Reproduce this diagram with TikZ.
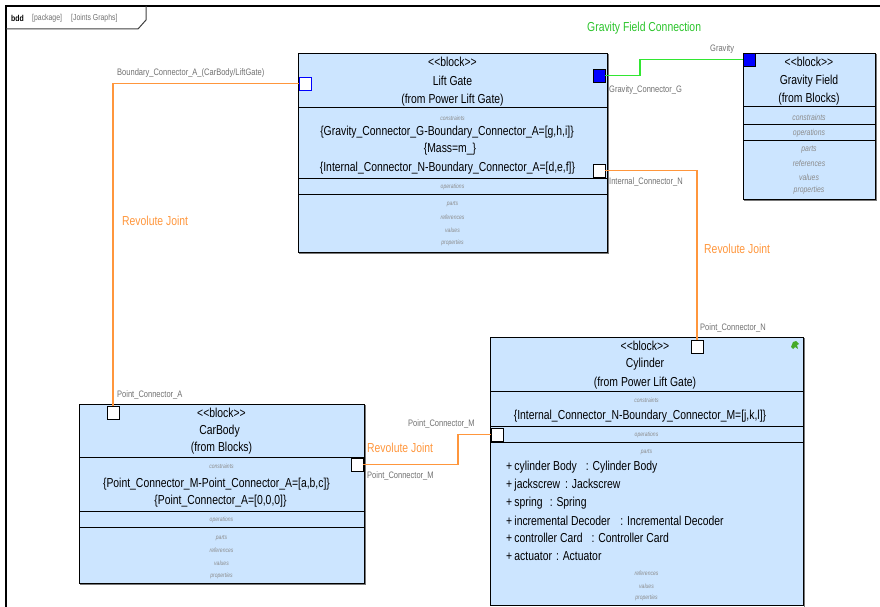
\documentclass[tikz,border=0pt]{standalone}
\usepackage{fontspec}
\setmainfont{Liberation Sans}[FakeStretch=0.8]
\definecolor{blockfill}{RGB}{204,229,255}
\definecolor{jointorange}{RGB}{255,150,60}
\definecolor{gravgreen}{RGB}{50,230,50}
\definecolor{lblgray}{RGB}{112,112,112}
\definecolor{italgray}{RGB}{140,140,140}
\definecolor{shadowgray}{RGB}{120,120,120}
\definecolor{portblue}{RGB}{0,0,255}
\definecolor{icongreen}{RGB}{70,170,40}
\newcommand{\stereo}{<\kern0pt<block>\kern0pt>}
\tikzset{
  blockbox/.style={draw=black, fill=blockfill, line width=0.9pt, inner sep=0pt, outer sep=0pt, anchor=north west},
  divider/.style={draw=black, line width=0.9pt},
  hdr/.style={font=\fontsize{13}{14}\selectfont, inner sep=0pt, text height=9.3pt, text depth=2.6pt},
  cmp/.style={font=\fontsize{6.3}{7}\selectfont\itshape, text=italgray, inner sep=0pt},
  cmpbig/.style={font=\fontsize{8.6}{9}\selectfont\itshape, text=italgray, inner sep=0pt},
  lbl/.style={font=\fontsize{9.4}{10}\selectfont, text=lblgray, inner sep=0pt, anchor=west},
  jnt/.style={font=\fontsize{13}{14}\selectfont, text=jointorange, inner sep=0pt, anchor=west},
  tabtxt/.style={font=\fontsize{8.6}{9}\selectfont, text=lblgray, inner sep=0pt, anchor=west},
  item/.style={font=\fontsize{13}{14}\selectfont, inner sep=0pt, anchor=west, text height=9.3pt, text depth=2.6pt},
  portbox/.style={draw=black, fill=white, line width=0.9pt, minimum width=12pt, minimum height=13pt, inner sep=0pt, outer sep=0pt, anchor=north west},
  orangeline/.style={draw=jointorange, line width=1.2pt},
  greenline/.style={draw=gravgreen, line width=1.2pt},
}
\begin{document}
\begin{tikzpicture}[x=1pt,y=-1pt]
\useasboundingbox (0,0) rectangle (880,607);

% diagram frame and its name tab
\draw[line width=2pt] (6,607) -- (6,6) -- (880,6);
\draw[line width=1pt, black!75] (6,29) -- (138,29) -- (146,20) -- (146,6);
\node[tabtxt, text=black, font=\fontsize{8.6}{9}\selectfont\bfseries] (tabkind) at (11,18) {bdd};
\node[tabtxt] (tabpkg) at (32,18) {[package]};
\node[tabtxt] (tabname) at (71,18) {[Joints Graphs]};

% ---------- Lift Gate ----------
\draw[shadowgray, line width=1pt] (608,54) -- (608,253) -- (299,253);
\node[blockbox, minimum width=309pt, minimum height=199pt] (lg) at (298,53) {};
\draw[divider] (298,107) -- (607,107);
\draw[divider] (298,178) -- (607,178);
\draw[divider] (298,194) -- (607,194);
\node[hdr] (lgst) at (452.5,63) {\stereo};
\node[hdr] (lgname) at (452.5,82) {Lift Gate};
\node[hdr] (lgfrom) at (452.5,100) {(from Power Lift Gate)};
\node[cmp] (lgc) at (452.5,118) {constraints};
\node[hdr] (lgc1) at (447,132) {\{Gravity\_Connector\_G-Boundary\_Connector\_A=[g,h,i]\}};
\node[hdr] (lgc2) at (450,149) {\{Mass=m\_\}};
\node[hdr] (lgc3) at (447.5,168) {\{Internal\_Connector\_N-Boundary\_Connector\_A=[d,e,f]\}};
\node[cmp] (lgo) at (452.5,187) {operations};
\node[cmp] (lgp) at (452.5,204) {parts};
\node[cmp] (lgr) at (452.5,217) {references};
\node[cmp] (lgv) at (452.5,230) {values};
\node[cmp] (lgpr) at (452.5,243) {properties};
\node[portbox, draw=portblue] (lgA) at (299,77) {};
\node[portbox, fill=portblue] (lgG) at (593,69) {};
\node[portbox] (lgN) at (593,164) {};

% ---------- Gravity Field ----------
\draw[shadowgray, line width=1pt] (876,54) -- (876,200) -- (744,200);
\node[blockbox, minimum width=132pt, minimum height=146pt] (gf) at (743,53) {};
\draw[divider] (743,106) -- (875,106);
\draw[divider] (743,124) -- (875,124);
\draw[divider] (743,140) -- (875,140);
\node[hdr] (gfst) at (809,63) {\stereo};
\node[hdr] (gfname) at (809,81) {Gravity Field};
\node[hdr] (gffrom) at (809,99) {(from Blocks)};
\node[cmpbig] (gfc) at (809,117) {constraints};
\node[cmpbig] (gfo) at (809,133) {operations};
\node[cmpbig] (gfp) at (809,150) {parts};
\node[cmpbig] (gfr) at (809,163) {references};
\node[cmpbig] (gfv) at (809,177) {values};
\node[cmpbig] (gfpr) at (809,190) {properties};
\node[portbox, fill=portblue] (gfG) at (743,53) {};

% ---------- CarBody ----------
\draw[shadowgray, line width=1pt] (365,405) -- (365,584) -- (80,584);
\node[blockbox, minimum width=285pt, minimum height=179pt] (cb) at (79,404) {};
\draw[divider] (79,457) -- (364,457);
\draw[divider] (79,511) -- (364,511);
\draw[divider] (79,527) -- (364,527);
\node[hdr] (cbst) at (221.5,414) {\stereo};
\node[hdr] (cbname) at (219.5,431) {CarBody};
\node[hdr] (cbfrom) at (221.5,448) {(from Blocks)};
\node[cmp] (cbc) at (221.5,466) {constraints};
\node[hdr] (cbc1) at (216.5,484) {\{Point\_Connector\_M-Point\_Connector\_A=[a,b,c]\}};
\node[hdr] (cbc2) at (220.5,501) {\{Point\_Connector\_A=[0,0,0]\}};
\node[cmp] (cbo) at (221.5,520) {operations};
\node[cmp] (cbp) at (221.5,538) {parts};
\node[cmp] (cbr) at (221.5,550) {references};
\node[cmp] (cbv) at (221.5,563) {values};
\node[cmp] (cbpr) at (221.5,576) {properties};
\node[portbox] (cbA) at (107,406) {};
\node[portbox] (cbM) at (351,458) {};

% ---------- Cylinder ----------
\draw[shadowgray, line width=1pt] (804,338) -- (804,607);
\node[blockbox, minimum width=313pt, minimum height=268.5pt] (cy) at (490,337) {};
\draw[divider] (490,391) -- (803,391);
\draw[divider] (490,426) -- (803,426);
\draw[divider] (490,442) -- (803,442);
\node[hdr] (cyst) at (645,347) {\stereo};
\node[hdr] (cyname) at (645,364) {Cylinder};
\node[hdr] (cyfrom) at (645,383) {(from Power Lift Gate)};
\node[cmp] (cyc) at (646.5,400) {constraints};
\node[hdr] (cyc1) at (640,416) {\{Internal\_Connector\_N-Boundary\_Connector\_M=[j,k,l]\}};
\node[cmp] (cyo) at (646.5,435) {operations};
\node[cmp] (cyp) at (646.5,452) {parts};
\node[item] (cyi1) at (506,467) {+\,cylinder Body\hspace{9pt}: Cylinder Body};
\node[item] (cyi2) at (506,485) {+\,jackscrew\hspace{5pt}: Jackscrew};
\node[item] (cyi3) at (506,503) {+\,spring\hspace{7pt}: Spring};
\node[item] (cyi4) at (506,522) {+\,incremental Decoder\hspace{10pt}: Incremental Decoder};
\node[item] (cyi5) at (506,539) {+\,controller Card\hspace{9pt}: Controller Card};
\node[item] (cyi6) at (506,557) {+\,actuator\hspace{4pt}: Actuator};
\node[cmp] (cyr) at (646.5,573) {references};
\node[cmp] (cyv) at (646.5,586) {values};
\node[cmp] (cypr) at (646.5,598) {properties};
\node[portbox] (cyN) at (691,340) {};
\node[portbox] (cyM) at (491,428) {};
% small green marker in the block corner
\fill[icongreen] (791,347) -- (793,342) -- (796,341) -- (799,344) -- (797,345) -- (798,349) -- (795,347) -- (793,349) -- cycle;

% ---------- connectors ----------
\coordinate (gbend) at (640,0);
\coordinate (mbend) at (458,0);
\draw[greenline] (lgG.east) -| (gbend |- gfG.west) -- (gfG.west);
\draw[orangeline] (lgN.east) -| (cyN.north);
\draw[orangeline] (lgA.west) -| (cbA.north);
\draw[orangeline] (cbM.east) -| (mbend |- cyM.west) -- (cyM.west);

% ---------- connector labels ----------
\node[lbl] (lA1) at (117,73) {Boundary\_Connector\_A\_(CarBody/LiftGate)};
\node[jnt] (j1) at (122,221) {Revolute Joint};
\node[lbl] (lA2) at (117,395) {Point\_Connector\_A};
\node[jnt, text=gravgreen!85!black] (gconn) at (587,28) {Gravity Field Connection};
\node[lbl] (lgrav) at (710,49) {Gravity};
\node[lbl] (lG) at (609,90) {Gravity\_Connector\_G};
\node[lbl] (lN1) at (609,182) {Internal\_Connector\_N};
\node[jnt] (j2) at (704,249) {Revolute Joint};
\node[lbl] (lN2) at (700,328) {Point\_Connector\_N};
\node[lbl] (lM1) at (408,424) {Point\_Connector\_M};
\node[jnt] (j3) at (367,448) {Revolute Joint};
\node[lbl] (lM2) at (367,476) {Point\_Connector\_M};
\end{tikzpicture}
\end{document}
